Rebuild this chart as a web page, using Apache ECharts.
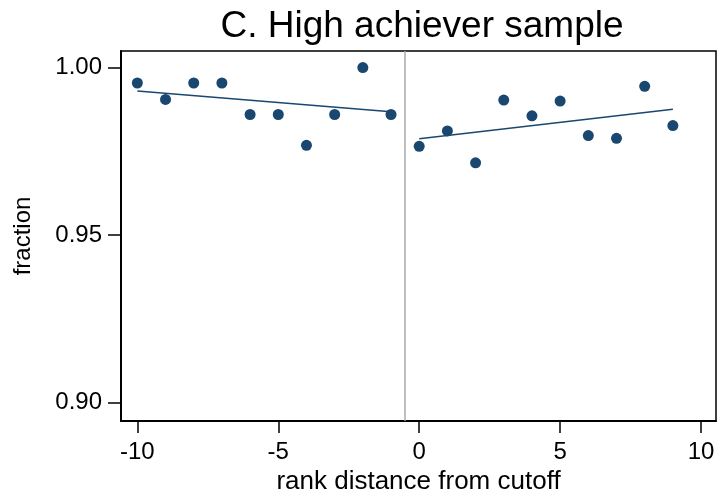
<!DOCTYPE html>
<html>
<head>
<meta charset="utf-8">
<script src="https://cdn.jsdelivr.net/npm/echarts@6/dist/echarts.min.js"></script>
<style>
  html, body { margin: 0; padding: 0; background: #fff; }
  #chart { width: 721px; height: 492px; }
</style>
</head>
<body>
<div id="chart"></div>
<script>
// rank distance from cutoff, below and above
const ranksLeft = [-10, -9, -8, -7, -6, -5, -4, -3, -2, -1]
const ranksRight = [0, 1, 2, 3, 4, 5, 6, 7, 8, 9]
// binned fraction
const fracLeft = [0.9954, 0.9905, 0.9954, 0.9954, 0.9860, 0.9860, 0.9768, 0.9860, 1.0000, 0.9860]
const fracRight = [0.9765, 0.9811, 0.9716, 0.9903, 0.9856, 0.9900, 0.9797, 0.9789, 0.9944, 0.9827]
// fitted line end points
const fitLeft = [[-10, 0.9930], [-1, 0.9868]]
const fitRight = [[0, 0.9788], [9, 0.9876]]
const xTicks = [-10, -5, 0, 5, 10]
const yTicks = [0.90, 0.95, 1.00]
const cutoff = -0.5

const navy = '#1a476f'
const font = 'Liberation Sans, Arial, sans-serif'

const chart = echarts.init(document.getElementById('chart'))

const dots = (xs, ys) => xs.map((x, i) => [x, ys[i]])

chart.setOption({
  animation: false,
  title: {
    text: 'C. High achiever sample',
    left: 417,
    textAlign: 'center',
    top: 3,
    textStyle: { fontFamily: font, fontSize: 37, fontWeight: 'normal', color: '#000' }
  },
  grid: {
    left: 121, right: 5, top: 51, bottom: 71,
    outerBoundsMode: 'none',
    show: true, borderColor: '#000', borderWidth: 1.5, backgroundColor: '#fff'
  },
  xAxis: {
    type: 'value',
    min: -10.58, max: 10.53,
    name: 'rank distance from cutoff',
    nameLocation: 'middle',
    nameGap: 44,
    nameTextStyle: { fontFamily: font, fontSize: 26, color: '#000' },
    axisLine: { show: true, onZero: false, lineStyle: { color: '#000', width: 2 } },
    axisTick: { show: true, length: 12, customValues: xTicks, lineStyle: { color: '#000', width: 1.5 } },
    axisLabel: { customValues: xTicks, fontFamily: font, fontSize: 24, color: '#000', margin: 19 },
    splitLine: { show: false }
  },
  yAxis: {
    type: 'value',
    min: 0.89455, max: 1.00495,
    name: 'fraction',
    nameLocation: 'middle',
    nameGap: 86,
    nameTextStyle: { fontFamily: font, fontSize: 24, color: '#000' },
    axisLine: { show: true, onZero: false, lineStyle: { color: '#000', width: 2 } },
    axisTick: { show: true, length: 13, customValues: yTicks, lineStyle: { color: '#000', width: 1.5 } },
    axisLabel: {
      customValues: yTicks, fontFamily: font, fontSize: 24, color: '#000', margin: 19,
      formatter: v => v.toFixed(2)
    },
    splitLine: { show: false }
  },
  series: [
    {
      type: 'scatter',
      data: dots(ranksLeft, fracLeft),
      symbolSize: 11,
      itemStyle: { color: navy, opacity: 1 },
      markLine: {
        silent: true,
        symbol: 'none',
        label: { show: false },
        lineStyle: { color: '#a8a8a8', width: 1.5, type: 'solid' },
        data: [{ xAxis: cutoff }]
      }
    },
    {
      type: 'scatter',
      data: dots(ranksRight, fracRight),
      symbolSize: 11,
      itemStyle: { color: navy, opacity: 1 }
    },
    {
      type: 'line',
      data: fitLeft,
      showSymbol: false,
      lineStyle: { color: navy, width: 1.5 }
    },
    {
      type: 'line',
      data: fitRight,
      showSymbol: false,
      lineStyle: { color: navy, width: 1.5 }
    }
  ]
})
</script>
</body>
</html>
